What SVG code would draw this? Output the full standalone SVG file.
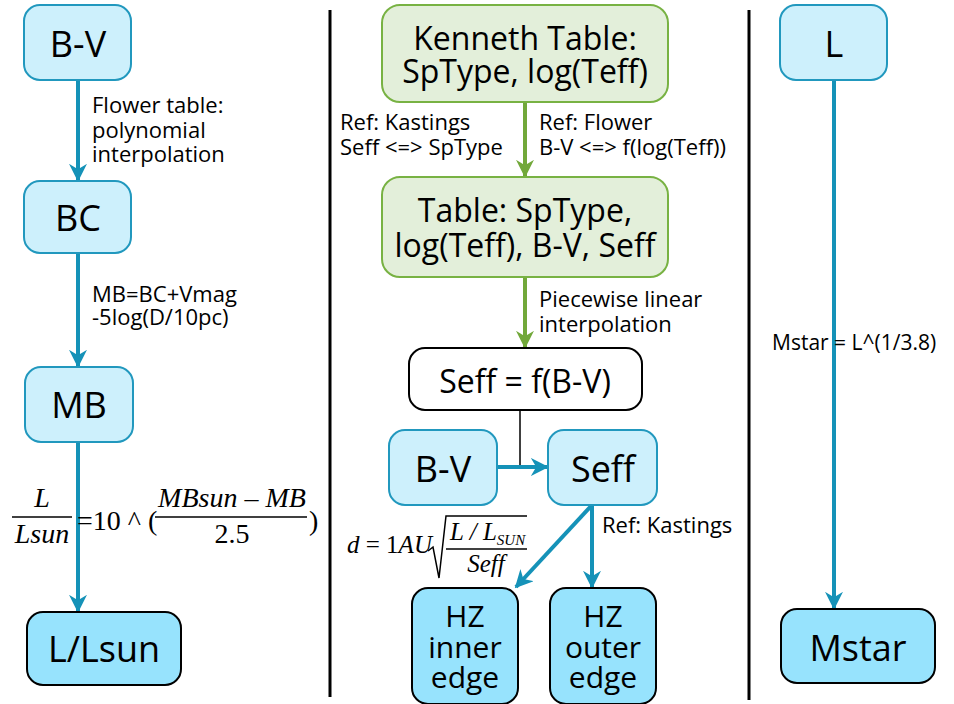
<svg xmlns="http://www.w3.org/2000/svg" width="954" height="704" viewBox="0 0 954 704">
<style>
.t{font-family:"Open Sans","Liberation Sans",sans-serif;fill:#000}
.big{font-size:36px;text-anchor:middle}
.mid{font-size:32px;text-anchor:middle}
.hz{font-size:30px;text-anchor:middle}
.lab{font-size:22px}
.m{font-family:"Liberation Serif","Times New Roman",serif;fill:#000}
.in{fill:#cdf0fc;stroke:#2198be;stroke-width:2}
.out{fill:#97e3fd;stroke:#000;stroke-width:2}
.gr{fill:#e3efda;stroke:#78b243;stroke-width:2}
.wh{fill:#fff;stroke:#000;stroke-width:2}
.ab{fill:none;stroke:#1592b8;stroke-width:4}
.ag{fill:none;stroke:#72a83a;stroke-width:4}
.sep{stroke:#000;stroke-width:3}
</style>
<defs>
<marker id="hb" markerUnits="userSpaceOnUse" markerWidth="18" markerHeight="18" viewBox="0 0 10 10" refX="9" refY="5" orient="auto">
<path d="M0,0 L10,5 L0,10 L3,5 z" fill="#1592b8"/>
</marker>
<marker id="hg" markerUnits="userSpaceOnUse" markerWidth="18" markerHeight="18" viewBox="0 0 10 10" refX="9" refY="5" orient="auto">
<path d="M0,0 L10,5 L0,10 L3,5 z" fill="#72a83a"/>
</marker>
</defs>
<rect width="954" height="704" fill="#fff"/>
<line class="sep" x1="330" y1="10" x2="330" y2="697"/>
<line class="sep" x1="749" y1="10" x2="749" y2="700"/>

<g id="connectors">
<line class="ab" x1="78" y1="80" x2="78" y2="180" marker-end="url(#hb)"/>
<line class="ab" x1="78" y1="253" x2="78" y2="366" marker-end="url(#hb)"/>
<line class="ab" x1="78" y1="442" x2="78" y2="611" marker-end="url(#hb)"/>
<line class="ag" x1="525" y1="102" x2="525" y2="176" marker-end="url(#hg)"/>
<line class="ag" x1="525" y1="277" x2="525" y2="347" marker-end="url(#hg)"/>
<line x1="520" y1="410" x2="520" y2="467" stroke="#000" stroke-width="1.5"/>
<line class="ab" x1="497" y1="467" x2="547" y2="467" marker-end="url(#hb)"/>
<line class="ab" x1="592" y1="505" x2="516" y2="587" marker-end="url(#hb)"/>
<line class="ab" x1="592" y1="505" x2="592" y2="587" marker-end="url(#hb)"/>
<line class="ab" x1="834" y1="80" x2="834" y2="608" marker-end="url(#hb)"/>
</g>

<g id="labels">
<text class="t lab" x="92" y="113">Flower table:</text>
<text class="t lab" x="92" y="138">polynomial</text>
<text class="t lab" x="92" y="162">interpolation</text>
<text class="t lab" x="92" y="302">MB=BC+Vmag</text>
<text class="t lab" x="92" y="325">-5log(D/10pc)</text>
<text class="t lab" x="340" y="130">Ref: Kastings</text>
<text class="t lab" x="340" y="155">Seff &lt;=&gt; SpType</text>
<text class="t lab" x="539" y="130">Ref: Flower</text>
<text class="t lab" x="539" y="155">B-V &lt;=&gt; f(log(Teff))</text>
<text class="t lab" x="539" y="307">Piecewise linear</text>
<text class="t lab" x="539" y="332">interpolation</text>
<text class="t lab" x="602" y="533">Ref: Kastings</text>
<text class="t" x="772" y="350" font-size="21">Mstar = L^(1/3.8)</text>
</g>

<g id="formula-lum">
<text class="m" x="42" y="507" font-size="28" font-style="italic" text-anchor="middle">L</text>
<line x1="12" y1="517" x2="72" y2="517" stroke="#000" stroke-width="1.5"/>
<text class="m" x="42" y="543" font-size="28" font-style="italic" text-anchor="middle">Lsun</text>
<text class="m" x="77" y="530" font-size="28">=10 ^ (</text>
<text class="m" x="232" y="507" font-size="28" font-style="italic" text-anchor="middle">MBsun – MB</text>
<line x1="155" y1="517" x2="307" y2="517" stroke="#000" stroke-width="1.5"/>
<text class="m" x="232" y="543" font-size="28" text-anchor="middle">2.5</text>
<text class="m" x="309" y="530" font-size="28">)</text>
</g>

<g id="formula-d">
<text class="m" x="347" y="553" font-size="25"><tspan font-style="italic">d</tspan> = 1<tspan font-style="italic">AU</tspan></text>
<path d="M428,551 L433,547 L439,578 L446,516 L527,516" fill="none" stroke="#000" stroke-width="1.5"/>
<line x1="446" y1="549" x2="527" y2="549" stroke="#000" stroke-width="1.5"/>
<text class="m" x="450" y="540" font-size="25" font-style="italic">L / L<tspan font-size="15" dy="5">SUN</tspan></text>
<text class="m" x="486" y="572" font-size="25" font-style="italic" text-anchor="middle">Seff</text>
</g>

<g id="n-bv-left"><rect class="in" x="24" y="5" width="107" height="75" rx="16"/><text class="t big" x="78" y="57">B-V</text></g>
<g id="n-bc"><rect class="in" x="24" y="181" width="107" height="72" rx="16"/><text class="t big" x="78" y="231">BC</text></g>
<g id="n-mb"><rect class="in" x="25" y="367" width="108" height="75" rx="16"/><text class="t big" x="79" y="418">MB</text></g>
<g id="n-llsun"><rect class="out" x="27" y="612" width="154" height="73" rx="16"/><text class="t big" x="104" y="662">L/Lsun</text></g>

<g id="n-kenneth"><rect class="gr" x="382" y="5" width="286" height="97" rx="18"/><text class="t mid" x="525" y="50">Kenneth Table:</text><text class="t mid" x="525" y="83">SpType, log(Teff)</text></g>
<g id="n-table"><rect class="gr" x="382" y="177" width="286" height="100" rx="18"/><text class="t mid" x="525" y="222">Table: SpType,</text><text class="t mid" x="525" y="257">log(Teff), B-V, Seff</text></g>
<g id="n-seff-f"><rect class="wh" x="409" y="348" width="233" height="62" rx="16"/><text class="t mid" x="525" y="393">Seff = f(B-V)</text></g>
<g id="n-bv-mid"><rect class="in" x="389" y="430" width="108" height="75" rx="16"/><text class="t big" x="443" y="482">B-V</text></g>
<g id="n-seff"><rect class="in" x="548" y="430" width="109" height="75" rx="16"/><text class="t big" x="603" y="482">Seff</text></g>
<g id="n-hz-inner"><rect class="out" x="412" y="588" width="106" height="116" rx="16"/><text class="t hz" x="465" y="627" font-size="34">HZ</text><text class="t hz" x="465" y="658">inner</text><text class="t hz" x="465" y="688">edge</text></g>
<g id="n-hz-outer"><rect class="out" x="550" y="588" width="106" height="116" rx="16"/><text class="t hz" x="603" y="627" font-size="34">HZ</text><text class="t hz" x="603" y="658">outer</text><text class="t hz" x="603" y="688">edge</text></g>

<g id="n-l"><rect class="in" x="780" y="5" width="107" height="75" rx="16"/><text class="t big" x="834" y="57">L</text></g>
<g id="n-mstar"><rect class="out" x="781" y="609" width="154" height="74" rx="16"/><text class="t big" x="858" y="661">Mstar</text></g>
</svg>
